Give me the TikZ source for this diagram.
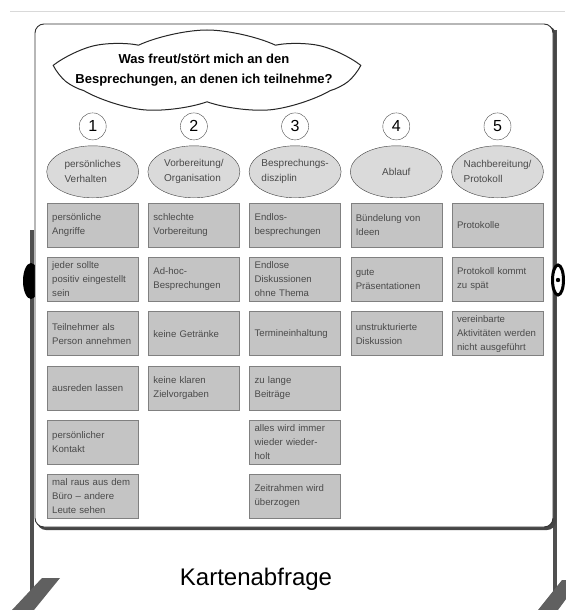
\documentclass[tikz,border=0pt]{standalone}
\usepackage{fontspec}
\setmainfont{Liberation Sans}
\usepackage{xcolor}
\usepackage{tikz}
\usetikzlibrary{shapes,positioning,calc}

\definecolor{cardgray}{HTML}{C4C4C4}
\definecolor{ovalgray}{HTML}{DADADA}
\definecolor{textgray}{HTML}{4A4A4A}
\definecolor{polegray}{HTML}{505050}

\begin{document}
\begin{tikzpicture}[x=1pt,y=1pt,
  card/.style={draw=black!50,fill=cardgray,minimum width=91pt,minimum height=44pt,
    text width=81pt,inner xsep=5pt,inner ysep=0pt,align=left,anchor=north west,
    font=\fontsize{9.6}{14}\selectfont,text=textgray},
  topic/.style={ellipse,draw=black!75,fill=ovalgray,minimum width=92pt,
    minimum height=52pt,inner sep=0pt},
  topictext/.style={align=left,font=\fontsize{10}{15}\selectfont,text=textgray},
  num/.style={circle,draw=black!70,minimum size=27pt,inner sep=0pt,
    font=\fontsize{16}{16}\selectfont},
  frage/.style={align=center,font=\fontsize{13}{20}\selectfont\bfseries},
]
  \useasboundingbox (0,0) rectangle (565,-610);
  \draw[gray!30,line width=1pt] (10,-12) -- (565,-12);

  % stand
  \draw[polegray,line width=3.2pt] (32,-230) -- (32,-603);
  \draw[polegray,line width=3.2pt] (555,-30) -- (555,-603);
  \fill[gray!75!black] (42,-578) -- (60,-578) -- (34,-610) -- (12,-610) -- cycle;
  \fill[gray!75!black] (562,-580) -- (580,-580) -- (558,-610) -- (538,-610) -- cycle;
  \fill[black] (31,-281) ellipse [x radius=8,y radius=18];

  % board
  \fill[gray!55!black,rounded corners=9pt] (37,-26) rectangle (556,-530);
  \draw[fill=white,draw=black!80,line width=0.9pt,rounded corners=9pt]
    (35,-24) rectangle (553,-527);
  \draw[black,line width=3pt,fill=white] (558,-280) ellipse [x radius=5.5,y radius=15];
  \fill[black] (558,-280) circle (2.2);

  % question
  \node[cloud,draw=black!85,fill=white,line width=1pt,cloud puffs=7,cloud puff arc=50,
    cloud ignores aspect,minimum width=290pt,minimum height=84pt] (wolke) at (207,-72) {};
  \node[frage] (frage) at (204,-70)
    {Was freut/stört mich an den\\Besprechungen, an denen ich teilnehme?};

  % column 1
  \node[card] (c11) at (47,-203) {persönliche\\Angriffe};
  \node[card,below=9.8pt of c11] (c12) {jeder sollte\\positiv eingestellt\\sein};
  \node[card,below=9.8pt of c12] (c13) {Teilnehmer als\\Person annehmen};
  \node[card,below=9.8pt of c13] (c14) {ausreden lassen};
  \node[card,below=9.8pt of c14] (c15) {persönlicher\\Kontakt};
  \node[card,below=9.8pt of c15] (c16) {mal raus aus dem\\Büro – andere\\Leute sehen};

  % column 2
  \node[card,right=9.8pt of c11] (c21) {schlechte\\Vorbereitung};
  \node[card,below=9.8pt of c21] (c22) {Ad-hoc-\\Besprechungen};
  \node[card,below=9.8pt of c22] (c23) {keine Getränke};
  \node[card,below=9.8pt of c23] (c24) {keine klaren\\Zielvorgaben};

  % column 3
  \node[card,right=9.8pt of c21] (c31) {Endlos-\\besprechungen};
  \node[card,below=9.8pt of c31] (c32) {Endlose\\Diskussionen\\ohne Thema};
  \node[card,below=9.8pt of c32] (c33) {Termineinhaltung};
  \node[card,below=9.8pt of c33] (c34) {zu lange\\Beiträge};
  \node[card,below=9.8pt of c34] (c35) {alles wird immer\\wieder wieder-\\holt};
  \node[card,below=9.8pt of c35] (c36) {Zeitrahmen wird\\überzogen};

  % column 4
  \node[card,right=9.8pt of c31] (c41) {Bündelung von\\Ideen};
  \node[card,below=9.8pt of c41] (c42) {gute\\Präsentationen};
  \node[card,below=9.8pt of c42] (c43) {unstrukturierte\\Diskussion};

  % column 5
  \node[card,right=9.8pt of c41] (c51) {Protokolle};
  \node[card,below=9.8pt of c51] (c52) {Protokoll kommt\\zu spät};
  \node[card,below=9.8pt of c52] (c53) {vereinbarte\\Aktivitäten werden\\nicht ausgeführt};

  % topics
  \node[topic,above=5pt of c11,label={[topictext]center:persönliches\\Verhalten}] (t1) {};
  \node[topic,above=5pt of c21,label={[topictext]center:Vorbereitung/\\Organisation}] (t2) {};
  \node[topic,above=5pt of c31,label={[topictext]center:Besprechungs-\\disziplin}] (t3) {};
  \node[topic,above=5pt of c41,label={[topictext]center:Ablauf}] (t4) {};
  \node[topic,above=5pt of c51,label={[topictext]center:Nachbereitung/\\Protokoll}] (t5) {};

  \node[num,above=5.5pt of t1] (n1) {1};
  \node[num,above=5.5pt of t2] (n2) {2};
  \node[num,above=5.5pt of t3] (n3) {3};
  \node[num,above=5.5pt of t4] (n4) {4};
  \node[num,above=5.5pt of t5] (n5) {5};

  \node[font=\fontsize{24}{24}\selectfont,anchor=base] (titel) at (256,-585) {Kartenabfrage};
\end{tikzpicture}
\end{document}
